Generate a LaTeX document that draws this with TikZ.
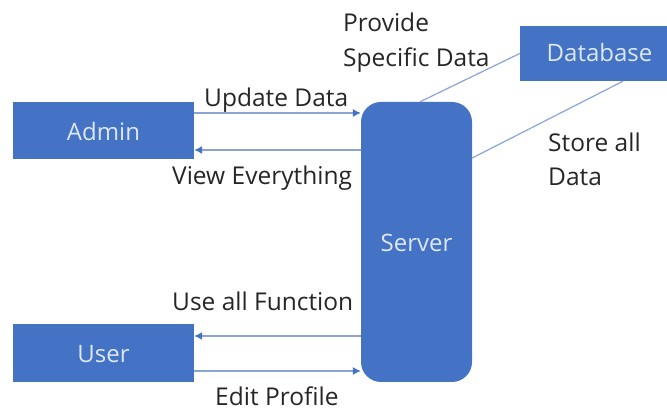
\documentclass[tikz,border=0pt]{standalone}
\usepackage{fontspec}
\setmainfont{Open Sans}
\usetikzlibrary{arrows.meta}
\definecolor{boxblue}{HTML}{4472C4}
\definecolor{linkblue}{HTML}{8AA5D3}
\definecolor{inktext}{HTML}{262626}
\definecolor{boxtext}{HTML}{DCE8F6}
\tikzset{
  x=1pt,y=-1pt,
  blockbox/.style={fill=boxblue,draw=none,inner sep=0pt,text=boxtext,text height=20pt,text depth=0pt,font=\fontsize{24}{28}\selectfont},
  link/.style={draw=linkblue,line width=1.2pt},
  flow/.style={link,-{Latex[length=8pt,width=8pt,color=boxblue]}},
  caption/.style={inner sep=0pt,anchor=base west,text=inktext,font=\fontsize{24.5}{28}\selectfont},
}
\begin{document}
\begin{tikzpicture}
\useasboundingbox (0,0) rectangle (667,411);
\node[blockbox,minimum width=181pt,minimum height=57pt] (admin) at (103.5,130.5) {Admin};
\node[blockbox,minimum width=181pt,minimum height=58pt] (user) at (103.5,353) {User};
\node[blockbox,text height=17pt,minimum width=147pt,minimum height=55pt] (database) at (593.5,53.5) {\hspace*{12pt}Database};
\node[blockbox,minimum width=111pt,minimum height=280pt,rounded corners=20pt] (server) at (416.5,242) {Server};
\draw[flow] ([yshift=17.5pt]admin.east) -- ([yshift=17.5pt]admin.east -| server.west);
\draw[flow] ([yshift=-19.5pt]admin.east -| server.west) -- ([yshift=-19.5pt]admin.east);
\draw[flow] ([yshift=17pt]user.east -| server.west) -- ([yshift=17pt]user.east);
\draw[flow] ([yshift=-18pt]user.east) -- ([yshift=-18pt]user.east -| server.west);
\draw[link] ([xshift=3.5pt]server.north) -- (database.west);
\draw[link] ([yshift=84pt]server.east) -- ([xshift=29.5pt]database.south);
\node[caption] (updatelabel) at (204,106.5) {Update Data};
\node[caption] (viewlabel) at (172,184.5) {View Everything};
\node[caption] (uselabel) at (172,310.5) {Use all Function};
\node[caption] (editlabel) at (215,406) {Edit Profile};
\node[caption] (providelabel) at (343,31.5) {Provide};
\node[caption] (specificlabel) at (343,66.5) {Specific Data};
\node[caption] (storelabel) at (548,152) {Store all};
\node[caption] (datalabel) at (548,186) {Data};
\end{tikzpicture}
\end{document}
